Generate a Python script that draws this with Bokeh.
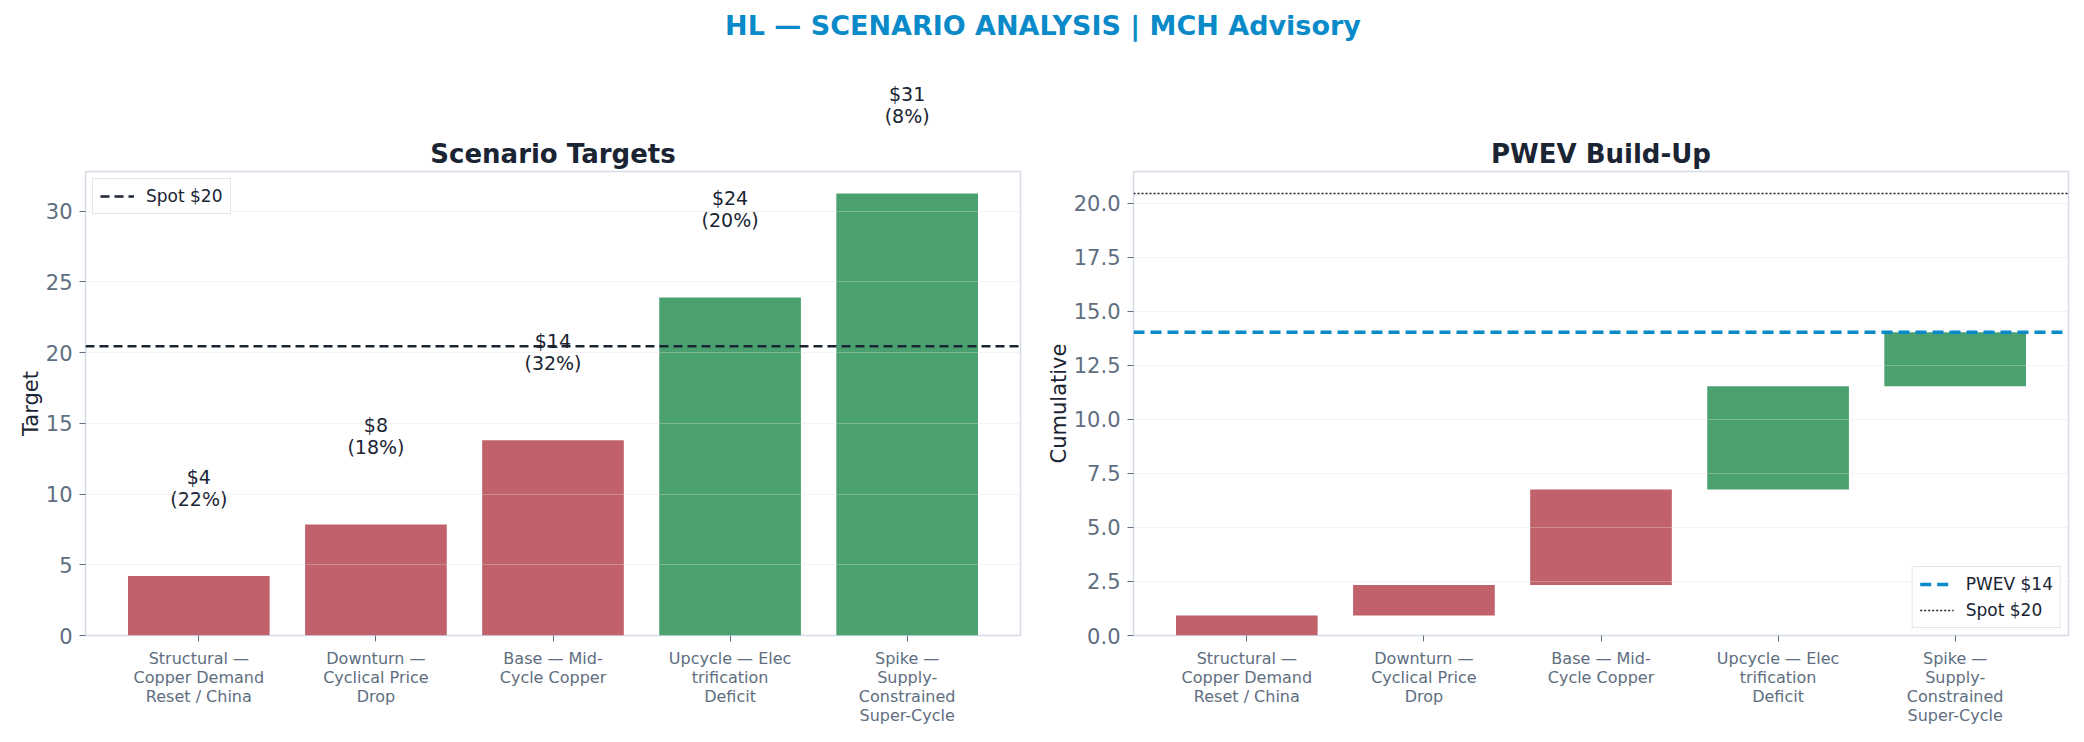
import numpy as np

from bokeh.embed import file_html
from bokeh.layouts import column, row
from bokeh.models import (ColumnDataSource, Div, FixedTicker, Label, Legend, LegendItem,
                          NumeralTickFormatter, Range1d, SingleIntervalTicker, Title)
from bokeh.plotting import figure
from bokeh.resources import INLINE

# scenario data
scenarios = [
    "Structural —\nCopper Demand\nReset / China",
    "Downturn —\nCyclical Price\nDrop",
    "Base — Mid-\nCycle Copper",
    "Upcycle — Elec\ntrification\nDeficit",
    "Spike —\nSupply-\nConstrained\nSuper-Cycle",
]
targets = [4.2, 7.85, 13.8, 23.9, 31.25]
probs = [0.22, 0.18, 0.32, 0.20, 0.08]
spot = 20.45

RED = "#c0616b"
GREEN = "#4aa16f"
BLUE = "#0a8ac8"
DARK = "#1a2433"
TICK = "#5e6e80"
EDGE = "#d5dce6"
FONT = "DejaVu Sans"

x = list(range(len(scenarios)))
x_lo, x_hi = -0.64, len(scenarios) - 1 + 0.64
colors = [GREEN if t > spot else RED for t in targets]
contrib = np.array(targets) * np.array(probs)
cum_top = np.cumsum(contrib)
cum_bottom = cum_top - contrib
pwev = cum_top[-1]


def make_title(text):
    return Title(text=text, text_font=FONT, text_font_size="26px", text_color=DARK,
                 align="center", standoff=6)


def style(p, ylabel):
    p.outline_line_color = EDGE
    p.outline_line_width = 1.5
    p.xgrid.grid_line_color = None
    p.ygrid.grid_line_color = "#dcdcdc"
    p.ygrid.grid_line_alpha = 0.35
    p.ygrid.level = "overlay"
    for ax in (p.xaxis, p.yaxis):
        ax.axis_line_color = None
        ax.major_tick_line_color = TICK
        ax.major_tick_in = 0
        ax.major_tick_out = 6
        ax.minor_tick_line_color = None
        ax.major_label_text_font = FONT
        ax.major_label_text_color = TICK
        ax.major_label_standoff = 7
    p.xaxis.ticker = FixedTicker(ticks=x)
    p.xaxis.major_label_overrides = {i: s for i, s in enumerate(scenarios)}
    p.xaxis.major_label_text_font_size = "16px"
    p.xaxis.major_label_text_line_height = 1.0
    p.yaxis.major_label_text_font_size = "21px"
    p.yaxis.axis_label = ylabel
    p.yaxis.axis_label_text_font = FONT
    p.yaxis.axis_label_text_font_size = "21px"
    p.yaxis.axis_label_text_font_style = "normal"
    p.yaxis.axis_label_text_color = DARK
    p.yaxis.axis_label_standoff = 0


def legend(p, items, location):
    lg = Legend(items=items, location=location)
    lg.label_text_font = FONT
    lg.label_text_font_size = "17px"
    lg.label_text_color = DARK
    lg.border_line_color = "#cccccc"
    lg.border_line_width = 1.5
    lg.glyph_width = 34
    lg.glyph_height = 20
    lg.label_standoff = 12
    lg.padding = 7
    lg.spacing = 6
    lg.margin = 7
    p.add_layout(lg)


# left: scenario targets
ymax1 = max(targets) * 1.05
p1 = figure(
    title=None,
    frame_width=935,
    frame_height=464,
    x_range=Range1d(x_lo, x_hi),
    y_range=Range1d(0, ymax1),
    min_border_left=85,
    min_border_right=10,
    min_border_top=121,
    min_border_bottom=95,
    output_backend="svg",
    toolbar_location=None,
)
p1.add_layout(make_title("Scenario Targets"), "above")
style(p1, "Target")

src1 = ColumnDataSource(data={"x": x, "top": targets, "color": colors})
p1.vbar(x="x", top="top", width=0.8, fill_color="color", line_color=None, source=src1)

spot1 = p1.line(x=[x_lo, x_hi], y=[spot, spot], line_color=DARK, line_width=2.5, line_dash="9 5")
legend(p1, [LegendItem(label=f"Spot ${spot:.0f}", renderers=[spot1])], "top_left")

for xi, t, pr in zip(x, targets, probs):
    label_y = t + max(targets) * 0.15
    lbl = Label(
        x=xi, y=label_y, text=f"${t:.0f}\n({pr:.0%})",
        text_align="center", text_baseline="bottom",
        text_font=FONT, text_font_size="19px", text_color=DARK, text_line_height=1.0,
    )
    # labels past the top of the axes go in the side panel so they are not clipped
    p1.add_layout(lbl, "above" if label_y > ymax1 else "center")

# right: PWEV build-up
p2 = figure(
    title=None,
    frame_width=935,
    frame_height=464,
    x_range=Range1d(x_lo, x_hi),
    y_range=Range1d(0, max(spot, pwev) * 1.05),
    min_border_left=103,
    min_border_right=8,
    min_border_top=121,
    min_border_bottom=95,
    output_backend="svg",
    toolbar_location=None,
)
p2.add_layout(make_title("PWEV Build-Up"), "above")
style(p2, "Cumulative")
p2.yaxis.ticker = SingleIntervalTicker(interval=2.5)
p2.yaxis.formatter = NumeralTickFormatter(format="0.0")

src2 = ColumnDataSource(data={"x": x, "bottom": cum_bottom, "top": cum_top, "color": colors})
p2.vbar(x="x", bottom="bottom", top="top", width=0.8, fill_color="color", line_color=None, source=src2)

pw_line = p2.line(x=[x_lo, x_hi], y=[pwev, pwev], line_color=BLUE, line_width=3.5, line_dash="11 6")
sp_line = p2.line(x=[x_lo, x_hi], y=[spot, spot], line_color=DARK, line_width=1.5, line_dash="2 2")
legend(p2, [
    LegendItem(label=f"PWEV ${pwev:.0f}", renderers=[pw_line]),
    LegendItem(label=f"Spot ${spot:.0f}", renderers=[sp_line]),
], "bottom_right")

header = Div(
    text="HL — SCENARIO ANALYSIS | MCH Advisory",
    width=2076,
    height=40,
    styles={
        "text-align": "center",
        "font-family": FONT,
        "font-weight": "bold",
        "font-size": "27px",
        "line-height": "42px",
        "color": BLUE,
        "width": "2076px",
    },
)

layout = column(header, row(p1, p2))
open("out.html", "w").write(file_html(layout, INLINE))
